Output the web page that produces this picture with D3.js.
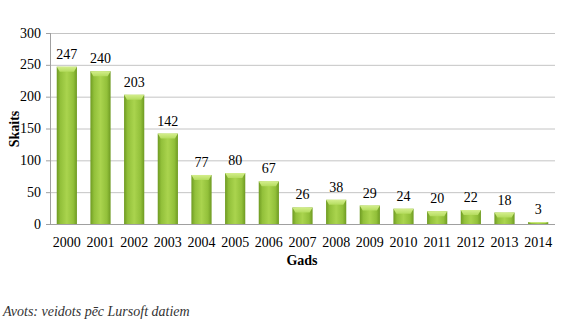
<!DOCTYPE html>
<html><head><meta charset="utf-8">
<script src="https://cdn.jsdelivr.net/npm/d3@7"></script>
<style>body{margin:0;background:#fff}</style>
</head><body>
<svg id="c" width="568" height="326"></svg>
<script>
const years = ["2000","2001","2002","2003","2004","2005","2006","2007","2008","2009","2010","2011","2012","2013","2014"];
const counts = [247,240,203,142,77,80,67,26,38,29,24,20,22,18,3];
const yTicks = [0,50,100,150,200,250,300];

const svg = d3.select("#c");
const FF = '"Liberation Serif"';
const L = 50, R = 555, T = 33, B = 224;
const x = d3.scaleBand().domain(years).range([L, R]).paddingInner(0.4).paddingOuter(0.2);
const y = d3.scaleLinear().domain([0,300]).range([B, T]);

const defs = svg.append("defs");
const g1 = defs.append("linearGradient").attr("id","bar").attr("x1","0").attr("x2","1").attr("y1","0").attr("y2","0");
g1.append("stop").attr("offset","0").attr("stop-color","#6e9a22");
g1.append("stop").attr("offset","0.18").attr("stop-color","#92c03a");
g1.append("stop").attr("offset","0.5").attr("stop-color","#aad44e");
g1.append("stop").attr("offset","0.82").attr("stop-color","#92c03a");
g1.append("stop").attr("offset","1").attr("stop-color","#6e9a22");
const g2 = defs.append("linearGradient").attr("id","top").attr("x1","0").attr("x2","0").attr("y1","0").attr("y2","1");
g2.append("stop").attr("offset","0").attr("stop-color","#d4ee8c");
g2.append("stop").attr("offset","1").attr("stop-color","#b4dc5e");

svg.append("g").selectAll("line").data(yTicks.filter(d=>d>0)).join("line")
  .attr("x1", L).attr("x2", R).attr("y1", d=>y(d)+0.5).attr("y2", d=>y(d)+0.5)
  .attr("stroke","#c4c4c4").attr("stroke-width",1);

svg.append("line").attr("x1",L+0.5).attr("x2",L+0.5).attr("y1",T).attr("y2",B).attr("stroke","#a0a0a0");
svg.append("line").attr("x1",L).attr("x2",R).attr("y1",B+0.5).attr("y2",B+0.5).attr("stroke","#a0a0a0");
svg.append("g").selectAll("line").data(yTicks).join("line")
  .attr("x1",L-4).attr("x2",L).attr("y1",d=>y(d)+0.5).attr("y2",d=>y(d)+0.5).attr("stroke","#a0a0a0");

svg.append("g").selectAll("text").data(yTicks).join("text")
  .attr("x", L-9).attr("y", d=>y(d)+4.5).attr("text-anchor","end")
  .style("font-family",FF).attr("font-size",14).attr("fill","#000").text(d=>d);

const bars = svg.append("g").selectAll("g").data(years).join("g");
bars.append("rect")
  .attr("x", d=>x(d)).attr("width", x.bandwidth())
  .attr("y", (d,i)=>y(counts[i])).attr("height", (d,i)=>B - y(counts[i]))
  .attr("fill","url(#bar)");
bars.append("path")
  .attr("d", (d,i)=>{
    const x0 = x(d), w = x.bandwidth(), yt = y(counts[i]);
    const h = Math.min(5, (B-yt)/2);
    return `M${x0},${yt}L${x0+w},${yt}L${x0+w-3},${yt+h}L${x0+3},${yt+h}Z`;
  })
  .attr("fill","url(#top)");

svg.append("g").selectAll("text").data(years).join("text")
  .attr("x", d=>x(d)+x.bandwidth()/2).attr("y",(d,i)=>y(counts[i])-8)
  .attr("text-anchor","middle").style("font-family",FF).attr("font-size",14)
  .text((d,i)=>counts[i]);

svg.append("g").selectAll("text").data(years).join("text")
  .attr("x", d=>x(d)+x.bandwidth()/2).attr("y", 247)
  .attr("text-anchor","middle").style("font-family",FF).attr("font-size",14)
  .text(d=>d);

svg.append("text").attr("x",302).attr("y",265).attr("text-anchor","middle")
  .style("font-family",FF).attr("font-size",14).attr("font-weight","bold").text("Gads");
svg.append("text").attr("transform","translate(19,129) rotate(-90)").attr("text-anchor","middle")
  .style("font-family",FF).attr("font-size",14).attr("font-weight","bold").text("Skaits");

svg.append("text").attr("x",3).attr("y",316)
  .style("font-family",FF).attr("font-size",14).attr("font-style","italic").attr("fill","#333")
  .text("Avots: veidots pēc Lursoft datiem");
</script>
</body></html>
